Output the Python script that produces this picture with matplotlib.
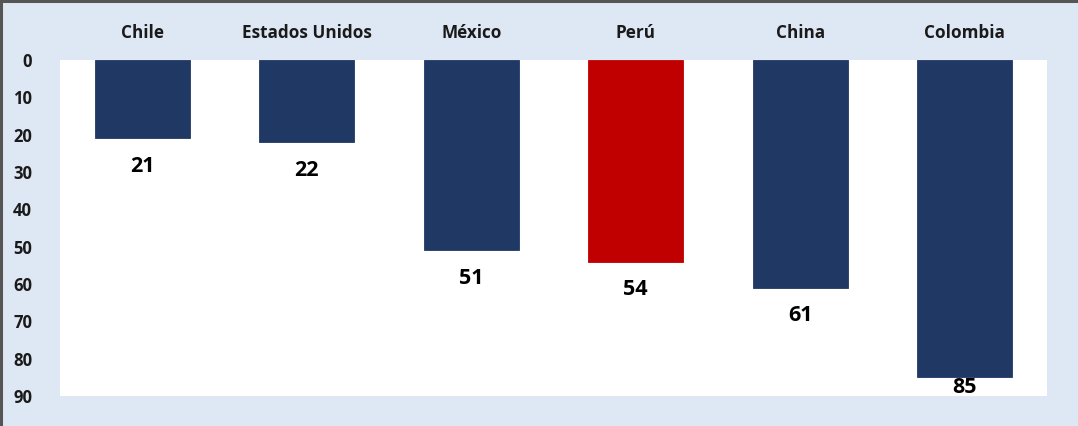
import numpy as np
import matplotlib
matplotlib.use("Agg")
import matplotlib.pyplot as plt
from matplotlib.lines import Line2D

countries = ["Chile", "Estados Unidos", "México", "Perú", "China", "Colombia"]
values = [21, 22, 51, 54, 61, 85]
highlight = "Perú"

NAVY = "#203864"
RED = "#C00000"
BG = "#DEE8F4"

plt.rcParams['font.family'] = ['Open Sans', 'DejaVu Sans']

fig = plt.figure(figsize=(10.78, 4.26), dpi=100, facecolor=BG)
ax = fig.add_axes([60 / 1078, 1 - 396 / 426, 987 / 1078, 336 / 426])
ax.set_facecolor("white")

x = np.arange(len(countries))
colors = [RED if c == highlight else NAVY for c in countries]
ax.bar(x, values, width=0.58, color=colors, edgecolor=colors, linewidth=0.6)

ax.set_ylim(90, 0)
ax.set_xlim(-0.5, len(countries) - 0.5)
ax.set_yticks(range(0, 91, 10))
ax.xaxis.tick_top()
ax.set_xticks(x)
ax.set_xticklabels(countries, fontsize=12.3, fontweight="bold", color="#1a1a1a")
ax.tick_params(axis="x", length=0, pad=13)
ax.tick_params(axis="y", length=0, pad=20, labelsize=12, labelcolor="#1a1a1a")
for lab in ax.get_yticklabels():
    lab.set_fontweight("bold")
for s in ax.spines.values():
    s.set_visible(False)

# Excel-style outside-end labels, kept inside the plot area
for xi, v in zip(x, values):
    ax.text(xi, min(v + 7.5, 87.6), str(v), ha="center", va="center",
            fontsize=15.5, fontweight="bold", color="black")

# chart border (top and left edges)
fig.add_artist(Line2D([0, 1], [0.997, 0.997], transform=fig.transFigure, color="#555555", lw=2.2))
fig.add_artist(Line2D([0.001, 0.001], [0, 1], transform=fig.transFigure, color="#555555", lw=2.2))

fig.savefig("out.png", dpi=100, facecolor=BG)
